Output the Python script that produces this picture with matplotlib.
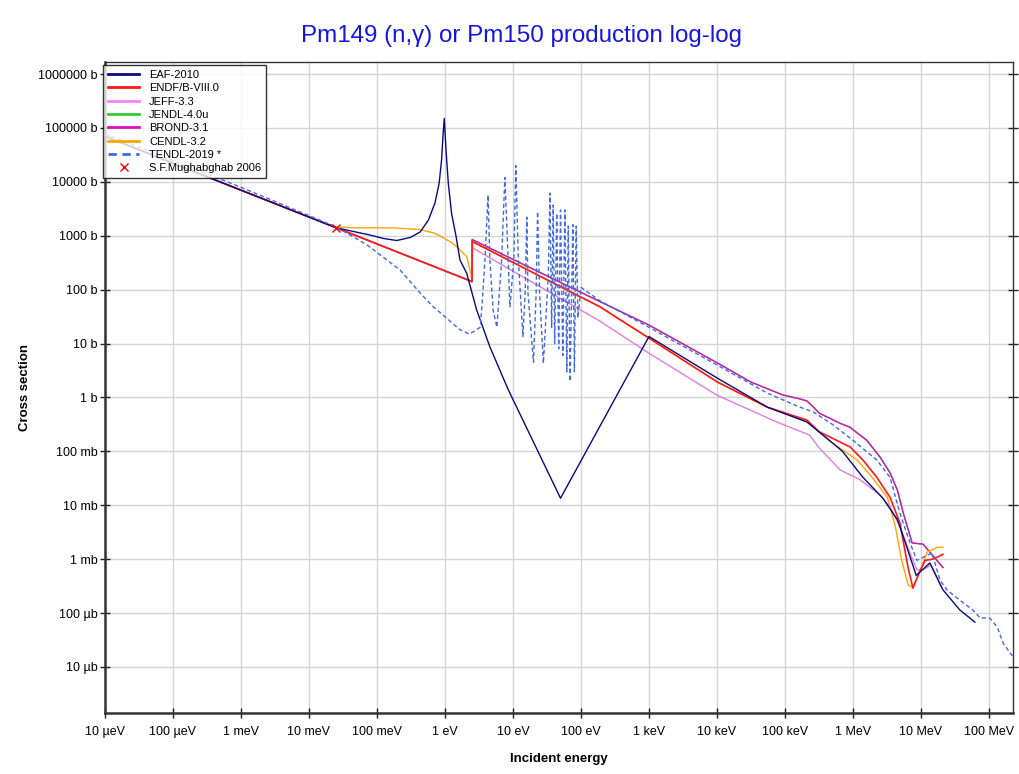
import matplotlib
matplotlib.use("Agg")
import matplotlib.pyplot as plt
from matplotlib.lines import Line2D
from matplotlib.ticker import FixedLocator, FixedFormatter, NullLocator

plt.rcParams['font.family'] = ['Liberation Sans', 'DejaVu Sans']

# ---------------- data (energy in eV, cross section in barns) ----------------
eaf_e = [1e-5, 1e-3, 0.0253, 0.079, 0.124, 0.195, 0.31, 0.43, 0.57, 0.71, 0.82,
         0.89, 0.94, 0.977, 1.035, 1.12, 1.25, 1.46, 1.66, 2.09, 2.92, 4.57, 8.5,
         50.0, 1e3, 1e4, 5.5e4, 2.1e5, 5.1e5, 7e5, 1.4e6, 2.75e6, 4.5e6, 6.2e6,
         8.5e6, 1.35e7, 2.1e7, 3.7e7, 6.2e7]
eaf_s = [7.0e4, 7.0e3, 1400, 1030, 890, 815, 930, 1170, 1940, 4000, 9300,
         2.5e4, 8.0e4, 1.5e5, 3.9e4, 9300, 2600, 950, 355, 200, 42, 8.7, 1.4,
         0.0135, 13.5, 2.3, 0.66, 0.35, 0.14, 0.1, 0.033, 0.0135, 0.0054, 0.00166,
         0.0005, 0.00085, 0.00027, 0.000115, 0.000068]

endf_e = [1e-5, 1e-3, 0.0253, 2.5, 2.51, 190, 1e3, 1e4, 5.5e4, 2.1e5, 3.2e5, 5.75e5,
          9.1e5, 1.4e6, 2.24e6, 3.5e6, 4.9e6, 6.45e6, 7.6e6, 9.8e6, 1.15e7, 1.5e7, 2.1e7]
endf_s = [7.0e4, 7.0e3, 1400, 141, 780, 48, 12.6, 1.95, 0.66, 0.38, 0.23, 0.16,
          0.12, 0.069, 0.033, 0.014, 0.0047, 0.0007, 0.00029, 0.00063, 0.00095, 0.001, 0.00123]

jeff_e = [1e-5, 1e-3, 0.0253, 2.5, 2.51, 190, 1e3, 1e4, 7.6e4, 2.3e5, 3.2e5, 6.5e5,
          1.26e6, 2.5e6, 3.5e6, 4.9e6, 6.9e6, 8.7e6, 1.1e7, 1.4e7, 2.0e7]
jeff_s = [7.0e4, 7.0e3, 1400, 141, 600, 26, 6.6, 1.1, 0.35, 0.2, 0.115, 0.045,
          0.03, 0.0155, 0.0093, 0.004, 0.0013, 0.00063, 0.00065, 0.00078, 0.0003]

brond_e = [1e-5, 1e-3, 0.0253, 2.5, 2.51, 190, 1e3, 1e4, 3.1e4, 9.3e4, 1.6e5, 2.1e5,
           2.5e5, 3.2e5, 6.5e5, 9e5, 1.6e6, 2.5e6, 3.5e6, 4.5e6, 5.5e6, 7.4e6, 1.07e7, 2.1e7]
brond_s = [7.0e4, 7.0e3, 1400, 141, 850, 60, 22, 4.4, 1.95, 1.11, 0.95, 0.86,
           0.70, 0.51, 0.33, 0.28, 0.16, 0.078, 0.04, 0.019, 0.0071, 0.002, 0.0019, 0.0007]

jendl_e = list(brond_e)
jendl_s = list(brond_s)

cendl_e = [1e-5, 1e-3, 0.013, 0.0253, 0.05, 0.17, 0.43, 0.67, 0.84, 1.3, 1.48, 2.09,
           2.4, 2.5, 2.51, 190, 1e3, 1e4, 5.5e4, 2.1e5, 5.1e5, 1.15e6, 1.9e6, 3.2e6,
           4.2e6, 5.2e6, 6.5e6, 7.6e6, 9.8e6, 1.23e7, 1.74e7, 2.1e7]
cendl_s = [7.0e4, 7.0e3, 1950, 1450, 1400, 1400, 1300, 1130, 1000, 720, 630, 410,
           200, 141, 780, 48, 12.6, 1.95, 0.66, 0.36, 0.14, 0.069, 0.033, 0.014,
           0.004, 0.00095, 0.00033, 0.0003, 0.00063, 0.00135, 0.00166, 0.00166]

tendl_e = [1e-5, 1e-3, 0.0253, 0.045, 0.071, 0.14, 0.22, 0.43, 0.67, 0.84, 1.66, 2.3,
           3.3, 3.55, 3.87, 4.3, 4.57, 5.1, 5.8, 6.8, 7.6, 8.5, 9.0, 10.3, 11.0, 12.0,
           14.0, 15.1, 16.0, 16.6, 20.0, 21.9, 23.0, 24.6, 28.0, 33.0, 35.0, 37.0,
           39.0, 41.0, 44.0, 47.0, 50.0, 54.0, 58.0, 62.0, 65.0, 69.0, 76.0, 80.0,
           85.0, 90.0, 100.0, 190, 1e3, 1e4, 5.5e4, 1.66e5, 2.6e5, 5.1e5, 1e6,
           2.24e6, 3.5e6, 4.9e6, 6.9e6, 8.7e6, 1.45e7, 1.9e7, 2.4e7, 3.7e7, 5.75e7,
           7.4e7, 1.02e8, 1.32e8, 1.62e8, 2.2e8]
tendl_s = [7.8e4, 7.9e3, 1450, 950, 680, 355, 230, 87, 48, 38, 18, 15,
           20, 65, 355, 5700, 355, 42, 20, 355, 1.2e4, 355, 48, 355, 2.0e4, 355,
           13.5, 87, 2200, 87, 4.5, 87, 2800, 87, 4.3, 177, 6200, 20,
           3700, 10, 2600, 8, 3000, 6, 3000, 3, 1500, 2, 1600, 3,
           1500, 30, 110, 62, 20, 4.0, 1.2, 0.66, 0.54, 0.31, 0.16,
           0.069, 0.033, 0.0071, 0.002, 0.00095, 0.0013, 0.00041, 0.00027, 0.000174, 0.000115,
           0.000081, 0.000081, 0.000055, 0.0000275, 0.000016]

mugh_e = [0.0253]
mugh_s = [1400]

x_ticks = [1e-5, 1e-4, 1e-3, 1e-2, 1e-1, 1, 10, 100, 1e3, 1e4, 1e5, 1e6, 1e7, 1e8]
x_labels = ['10 µeV', '100 µeV', '1 meV', '10 meV', '100 meV', '1 eV', '10 eV',
            '100 eV', '1 keV', '10 keV', '100 keV', '1 MeV', '10 MeV', '100 MeV']
y_ticks = [1e-5, 1e-4, 1e-3, 1e-2, 1e-1, 1, 10, 100, 1e3, 1e4, 1e5, 1e6]
y_labels = ['10 µb', '100 µb', '1 mb', '10 mb', '100 mb', '1 b', '10 b', '100 b',
            '1000 b', '10000 b', '100000 b', '1000000 b']

# ---------------- figure ----------------
fig = plt.figure(figsize=(10.2, 7.74), dpi=100)
ax = fig.add_axes([0.1029, 0.0788, 0.8902, 0.8411])
ax.set_xscale('log')
ax.set_yscale('log')
ax.set_xlim(1e-5, 2.25e8)
ax.set_ylim(1.4e-6, 1.67e6)

c_eaf, c_endf, c_jeff, c_jendl = '#0a0a80', '#ff1a1a', '#dd80dd', '#33cc33'
c_brond, c_cendl, c_tendl = '#dd11bb', '#ffa500', '#4169e1'

lw = 1.0
ax.plot(jendl_e, jendl_s, color=c_jendl, lw=lw, zorder=2)
ax.plot(brond_e, brond_s, color=c_brond, lw=lw, zorder=3)
ax.plot(cendl_e, cendl_s, color=c_cendl, lw=lw, zorder=4)
ax.plot(jeff_e, jeff_s, color=c_jeff, lw=lw, zorder=5)
ax.plot(endf_e, endf_s, color=c_endf, lw=1.2, zorder=6)
ax.plot(eaf_e, eaf_s, color=c_eaf, lw=lw, zorder=7)
ax.plot(tendl_e, tendl_s, color=c_tendl, lw=1.0, ls=(0, (3, 2)), zorder=8)
ax.plot(mugh_e, mugh_s, ls='none', marker='x', color='red', ms=6, mew=1, zorder=9)

ax.xaxis.set_major_locator(FixedLocator(x_ticks))
ax.xaxis.set_major_formatter(FixedFormatter(x_labels))
ax.yaxis.set_major_locator(FixedLocator(y_ticks))
ax.yaxis.set_major_formatter(FixedFormatter(y_labels))
ax.xaxis.set_minor_locator(NullLocator())
ax.yaxis.set_minor_locator(NullLocator())
ax.tick_params(axis='both', which='major', direction='inout', length=7, width=1,
               labelsize=9, colors='#222222', labelcolor='black')
ax.tick_params(axis='y', right=True, pad=2)
ax.tick_params(axis='x', pad=6)

ax.grid(True, which='major', color='#d4d4d4', lw=1.0)
ax.set_axisbelow(True)
for s in ['left', 'bottom']:
    ax.spines[s].set_linewidth(1.8)
    ax.spines[s].set_color('#333333')
for s in ['top', 'right']:
    ax.spines[s].set_linewidth(1.0)
    ax.spines[s].set_color('#333333')

ax.set_xlabel('Incident energy', fontsize=9.5, fontweight='bold', labelpad=11)
ax.set_ylabel('Cross section', fontsize=9.5, fontweight='bold', labelpad=5)
fig.text(0.511, 0.954, 'Pm149 (n,γ) or Pm150 production log-log', ha='center', va='center',
         fontsize=17.4, color='#1515e0')

handles = [
    Line2D([], [], color=c_eaf, lw=2),
    Line2D([], [], color=c_endf, lw=2),
    Line2D([], [], color='#ff80ff', lw=2),
    Line2D([], [], color=c_jendl, lw=2),
    Line2D([], [], color=c_brond, lw=2),
    Line2D([], [], color=c_cendl, lw=2),
    Line2D([], [], color=c_tendl, lw=2, ls=(0, (3, 2))),
    Line2D([], [], color='red', ls='none', marker='x', ms=6),
]
labels = ['EAF-2010', 'ENDF/B-VIII.0', 'JEFF-3.3', 'JENDL-4.0u', 'BROND-3.1',
          'CENDL-3.2', 'TENDL-2019 *', 'S.F.Mughabghab 2006']
leg = ax.legend(handles, labels, loc='upper left', bbox_to_anchor=(0.101, 0.916),
                bbox_transform=fig.transFigure, fontsize=8, frameon=True, fancybox=False,
                framealpha=0.8, edgecolor='black', borderpad=0.45, labelspacing=0.3,
                handlelength=2.8, handletextpad=0.9, borderaxespad=0)
leg.get_frame().set_linewidth(1.0)
leg.set_zorder(20)

fig.savefig('out.png', dpi=100)
